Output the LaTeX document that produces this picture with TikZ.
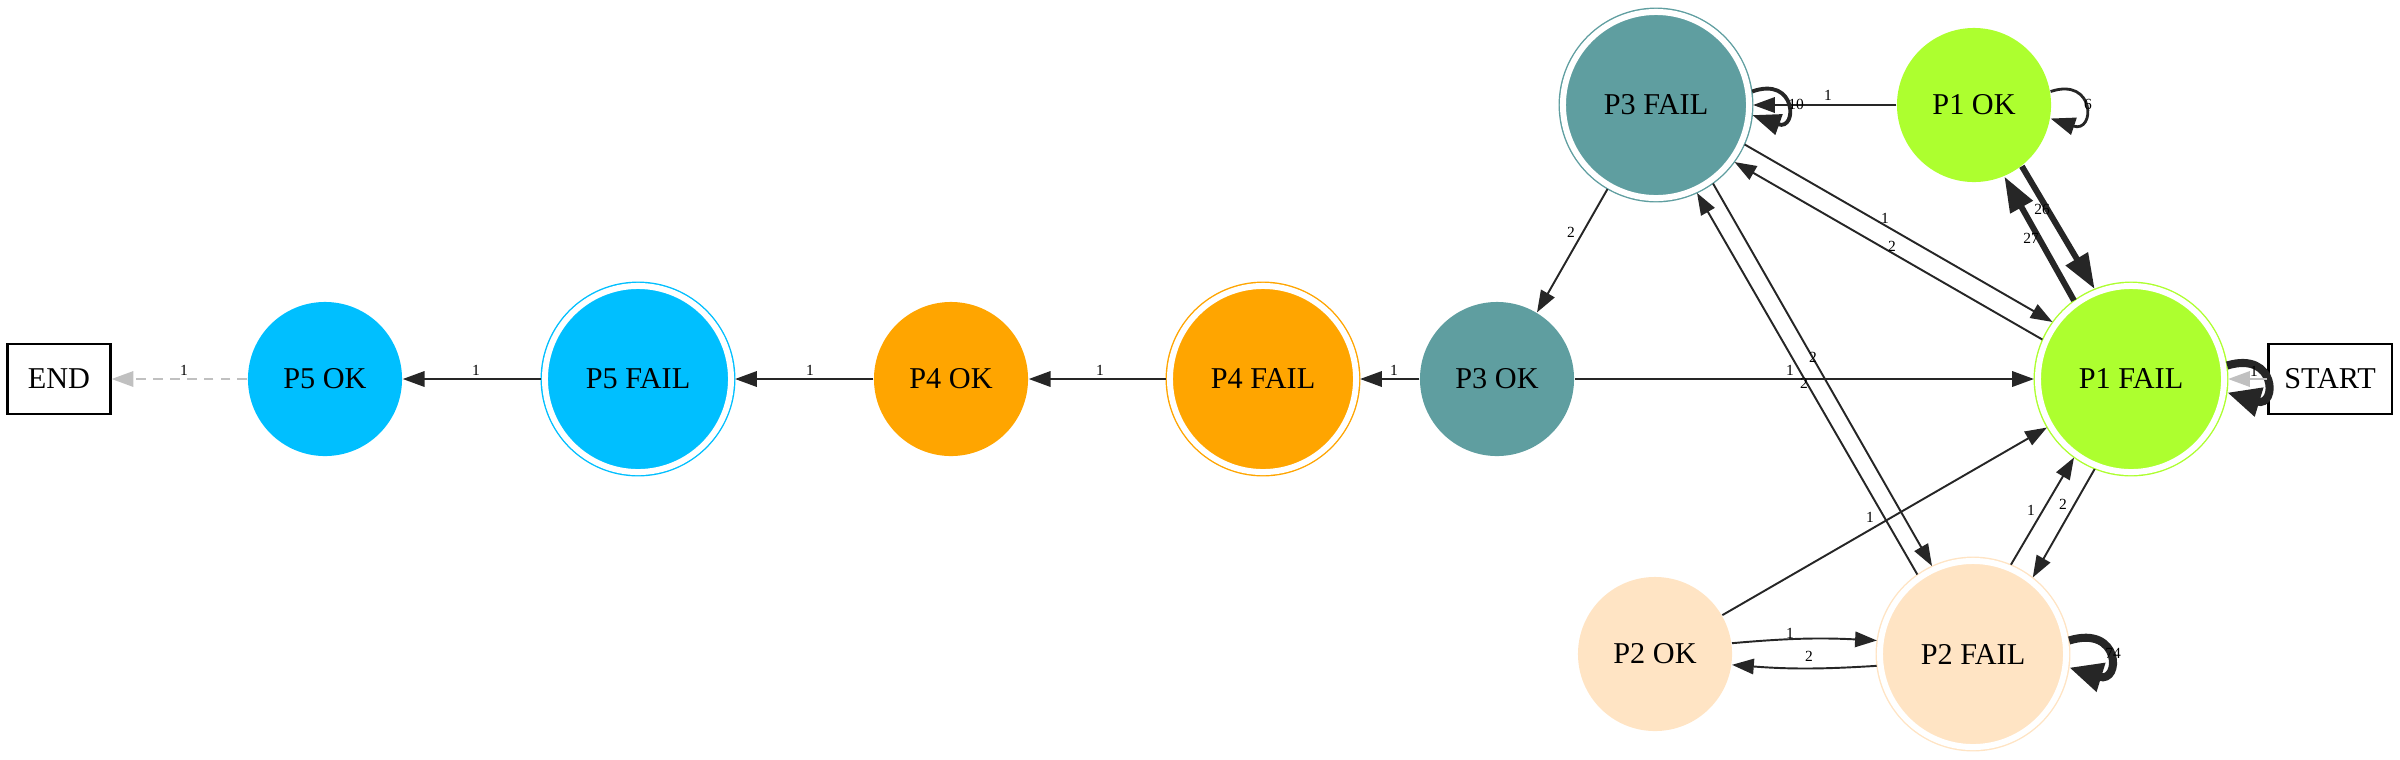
\documentclass[tikz,border=0pt]{standalone}
\usepackage{fontspec}
\setmainfont{Liberation Serif}
\usetikzlibrary{arrows.meta, positioning, calc}

\definecolor{edgec}{RGB}{38,38,38}
\definecolor{silverc}{RGB}{192,192,192}
\definecolor{p1c}{RGB}{173,255,47}
\definecolor{p2c}{RGB}{255,228,196}
\definecolor{p3c}{RGB}{95,158,160}
\definecolor{p4c}{RGB}{255,165,0}
\definecolor{p5c}{RGB}{0,191,255}

\tikzset{
    statefont/.style={font=\fontsize{8.6}{10}\selectfont},
    okstate/.style={circle, fill=#1, minimum size=1.54cm, inner sep=0pt, statefont},
    failstate/.style={circle, fill=#1, draw=#1, line width=0.4pt, double=white,
        double distance=0.06cm, minimum size=1.86cm, inner sep=0pt, outer sep=0.04cm, statefont},
    endpoint/.style={rectangle, draw, line width=0.6pt, minimum height=0.7cm, inner sep=0pt, statefont},
    trans/.style={draw=edgec, line width=0.55pt, -{Triangle[length=6.2pt,width=4.4pt]}},
    heavy/.style={trans, line width=1.7pt, -{Triangle[length=10pt,width=7pt]}},
    lbl/.style={font=\fontsize{4.4}{5}\selectfont, inner sep=0pt}
}

\begin{document}
\begin{tikzpicture}[x=0.01cm, y=0.01cm]
        \useasboundingbox (0,0) rectangle (2400,759);

        % states
        \node[endpoint, minimum width=1.03cm] (end) at (59,380) {END};
        \node[okstate=p5c] (p5ok) at (325,380) {P5 OK};
        \node[failstate=p5c] (p5fail) at (638,380) {P5 FAIL};
        \node[okstate=p4c] (p4ok) at (951,380) {P4 OK};
        \node[failstate=p4c] (p4fail) at (1263,380) {P4 FAIL};
        \node[okstate=p3c] (p3ok) at (1497,380) {P3 OK};
        \node[failstate=p3c] (p3fail) at (1656,654) {P3 FAIL};
        \node[okstate=p1c] (p1ok) at (1974,654) {P1 OK};
        \node[failstate=p1c] (p1fail) at (2131,380) {P1 FAIL};
        \node[endpoint, minimum width=1.23cm] (start) at (2330,380) {START};
        \node[okstate=p2c] (p2ok) at (1655,105) {P2 OK};
        \node[failstate=p2c] (p2fail) at (1973,105) {P2 FAIL};

        % chain to the end
        \draw[trans] (p3ok) -- (p4fail) node[lbl] at (1394,389) {1};
        \draw[trans] (p4fail) -- (p4ok) node[lbl] at (1100,389) {1};
        \draw[trans] (p4ok) -- (p5fail) node[lbl] at (810,389) {1};
        \draw[trans] (p5fail) -- (p5ok) node[lbl] at (476,389) {1};
        \draw[trans, draw=silverc, dash pattern=on 2.8pt off 2pt] (p5ok) -- (end) node[lbl] at (184,389) {1};

        % P1 / P3
        \draw[heavy] (p1ok.-52) -- (p1fail.112) node[lbl] at (2042,550) {26};
        \draw[heavy] (p1fail.126) -- (p1ok.-67) node[lbl] at (2031,521) {27};
        \draw[trans] (p1ok) -- (p3fail) node[lbl] at (1828,664) {1};
        \draw[trans] (p3fail.-24) -- (p1fail.144) node[lbl] at (1885,541) {1};
        \draw[trans] (p1fail.156) -- (p3fail.-36) node[lbl] at (1892,513) {2};
        \draw[trans] (p3fail.-120) -- (p3ok.59) node[lbl] at (1571,527) {2};
        \draw[trans] (p3ok) -- (p1fail) node[lbl] at (1790,389) {1};

        % P2
        \draw[trans] (p3fail.-54) -- (p2fail.115) node[lbl] at (1813,402) {2};
        \draw[trans] (p2fail.125) -- (p3fail.-65) node[lbl] at (1804,376) {2};
        \draw[trans] (p2ok.30) -- (p1fail.-150) node[lbl] at (1870,242) {1};
        \draw[trans] (p2fail.67) -- (p1fail.-126) node[lbl] at (2031,249) {1};
        \draw[trans] (p1fail.-112) -- (p2fail.52) node[lbl] at (2063,255) {2};
        \draw[trans] (p2ok.8) to[bend left=4] (p2fail.172) node[lbl] at (1790,126) {1};
        \draw[trans] (p2fail.-173) to[bend left=4] (p2ok.-8) node[lbl] at (1809,103) {2};

        % loops
        \draw[trans, line width=1.1pt, -{Triangle[length=8pt,width=6pt]}] (p3fail.8) .. controls +(45,16) and +(45,-16) .. (p3fail.-6) node[lbl] at (1796,655) {10};
        \draw[trans, line width=0.8pt, -{Triangle[length=7pt,width=5pt]}] (p1ok.10) .. controls +(45,15) and +(45,-15) .. (p1ok.-10) node[lbl] at (2088,655) {6};
        \draw[trans, line width=2.3pt, -{Triangle[length=9.5pt,width=8pt]}] (p2fail.8) .. controls +(52,16) and +(52,-16) .. (p2fail.-8) node[lbl] at (2113,106) {74};
        \draw[trans, line width=2.3pt, -{Triangle[length=9.5pt,width=8pt]}] (p1fail.8) .. controls +(50,15) and +(50,-15) .. (p1fail.-8);

        % start
        \draw[trans, draw=silverc] (start) -- (p1fail) node[lbl] at (2254,388) {1};

    \end{tikzpicture}
\end{document}
